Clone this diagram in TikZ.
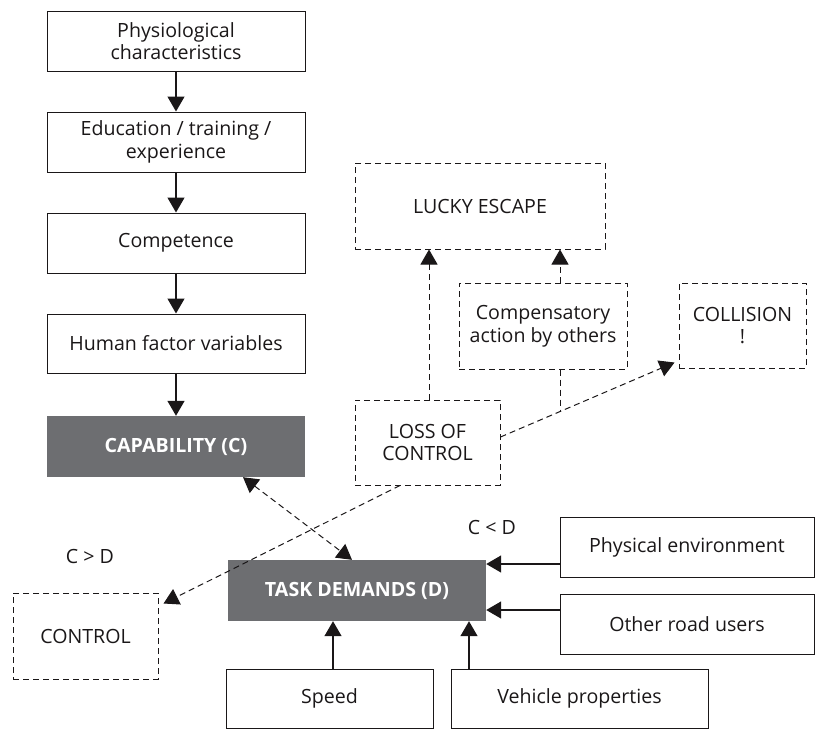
\documentclass[tikz,border=0pt]{standalone}
\usepackage{fontspec}
\setmainfont{Open Sans}
\usetikzlibrary{arrows.meta,calc}
\definecolor{ink}{HTML}{1A1718}
\definecolor{boxgray}{HTML}{6D6E71}
\tikzset{
  every node/.style={font=\fontsize{19.6}{22.5}\selectfont, text=ink, align=center, inner sep=0pt},
  solidbox/.style={draw=ink, line width=1pt},
  dashbox/.style={draw=ink, line width=1pt, dash pattern=on 6pt off 4pt},
  darkbox/.style={fill=boxgray, text=white, font=\fontsize{19.6}{22.5}\selectfont\bfseries},
  tip/.tip={Triangle[length=15pt,width=17pt]},
  arr/.style={draw=ink, line width=1.4pt, -tip},
  dline/.style={draw=ink, line width=1pt, dash pattern=on 6pt off 4pt},
  darr/.style={dline, -tip},
}
\begin{document}
\begin{tikzpicture}[x=1pt,y=-1pt]
\useasboundingbox (0,0) rectangle (816,729);

% left column: capability chain
\node[solidbox, minimum width=258pt, minimum height=60pt] (phys) at (176,41) {Physiological\\characteristics};
\node[solidbox, minimum width=258pt, minimum height=60pt] (edu) at (176,142) {Education / training /\\experience};
\node[solidbox, minimum width=258pt, minimum height=60pt] (comp) at (176,243) {Competence};
\node[solidbox, minimum width=258pt, minimum height=59pt] (hfv) at (176,343.5) {Human factor variables};
\node[darkbox, minimum width=258pt, minimum height=61pt] (cap) at (176,446.5) {CAPABILITY (C)};

% task demands and its inputs
\node[darkbox, minimum width=258pt, minimum height=61pt] (task) at (357,590.5) {TASK DEMANDS (D)};
\node[solidbox, minimum width=254pt, minimum height=60pt] (physenv) at (687,547) {Physical environment};
\node[solidbox, minimum width=254pt, minimum height=60pt] (other) at (687,624) {Other road users};
\node[solidbox, minimum width=207pt, minimum height=59pt] (speed) at (329.5,698.5) {Speed};
\node[solidbox, minimum width=257pt, minimum height=59pt] (vehicle) at (579.5,698.5) {Vehicle properties};

% outcomes
\node[dashbox, minimum width=145pt, minimum height=86pt] (control) at (85.5,636) {CONTROL};
\node[dashbox, minimum width=145pt, minimum height=85pt] (loss) at (427.5,442.5) {LOSS OF\\CONTROL};
\node[dashbox, minimum width=250pt, minimum height=86pt] (lucky) at (480,206) {LUCKY ESCAPE};
\node[dashbox, minimum width=168pt, minimum height=86pt] (compens) at (543,326) {Compensatory\\action by others};
\node[dashbox, minimum width=127pt, minimum height=85pt] (collision) at (742.5,325.5) {COLLISION\\!};

% comparison labels
\node (cgt) at (90,556) {C > D};
\node (clt) at (492,527) {C < D};

% solid arrows
\draw[arr] (phys) -- (edu);
\draw[arr] (edu) -- (comp);
\draw[arr] (comp) -- (hfv);
\draw[arr] (hfv) -- (cap);
\coordinate (tE1) at ([yshift=26.5pt]task.east);
\coordinate (tE2) at ([yshift=-19.5pt]task.east);
\draw[arr] (physenv.west |- tE1) -- (tE1);
\draw[arr] (other.west |- tE2) -- (tE2);
\coordinate (tS1) at ([xshift=-24pt]task.south);
\coordinate (tS2) at ([xshift=112pt]task.south);
\draw[arr] (speed.north -| tS1) -- (tS1);
\draw[arr] (vehicle.north -| tS2) -- (tS2);

% dashed connectors
\draw[dline, tip-tip] ([xshift=67pt]cap.south) -- ([xshift=-5pt]task.north);
\draw[darr] ([xshift=-27.5pt]loss.south) -- ([xshift=5pt,yshift=-11pt]control.north east);
\coordinate (lN) at ([xshift=1.5pt]loss.north);
\draw[darr] (lN) -- (lN |- lucky.south);
\coordinate (cN) at ([xshift=17pt]compens.north);
\draw[darr] (cN) -- (cN |- lucky.south);
\coordinate (lcA) at ([yshift=5.5pt]loss.east);
\coordinate (lcB) at ([xshift=-4pt,yshift=6pt]collision.south west);
\draw[darr] (lcA) -- (lcB);
\coordinate (jn) at ($(lcA)!0.343!(lcB)$);
\draw[dline] (compens.south -| jn) -- (jn);
\end{tikzpicture}
\end{document}
